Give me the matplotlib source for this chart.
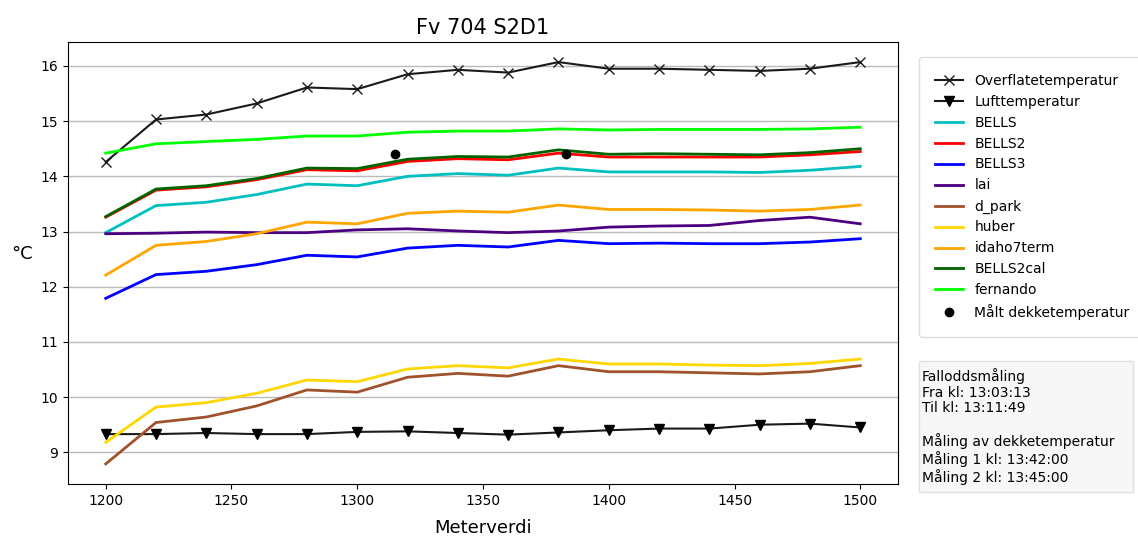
import numpy as np
import matplotlib
matplotlib.use('Agg')
import matplotlib.pyplot as plt
from matplotlib.patches import Rectangle

# Meterverdi langs strekningen
meter = [1200, 1220, 1240, 1260, 1280, 1300, 1320, 1340,
         1360, 1380, 1400, 1420, 1440, 1460, 1480, 1500]

overflate = [14.26, 15.03, 15.12, 15.32, 15.61, 15.58, 15.85, 15.93,
             15.88, 16.07, 15.95, 15.95, 15.93, 15.91, 15.95, 16.07]
luft = [9.33, 9.33, 9.35, 9.33, 9.33, 9.37, 9.38, 9.35,
        9.32, 9.36, 9.40, 9.43, 9.43, 9.50, 9.52, 9.45]

bells = [12.98, 13.47, 13.53, 13.67, 13.86, 13.83, 14.00, 14.05,
         14.02, 14.15, 14.08, 14.08, 14.08, 14.07, 14.11, 14.18]
bells2 = [13.26, 13.75, 13.81, 13.94, 14.12, 14.10, 14.27, 14.32,
          14.30, 14.42, 14.35, 14.35, 14.35, 14.35, 14.39, 14.45]
bells3 = [11.79, 12.22, 12.28, 12.40, 12.57, 12.54, 12.70, 12.75,
          12.72, 12.84, 12.78, 12.79, 12.78, 12.78, 12.81, 12.87]
lai = [12.96, 12.97, 12.99, 12.98, 12.98, 13.03, 13.05, 13.01,
       12.98, 13.01, 13.08, 13.10, 13.11, 13.20, 13.26, 13.14]
d_park = [8.79, 9.54, 9.64, 9.84, 10.13, 10.09, 10.36, 10.43,
          10.38, 10.57, 10.46, 10.46, 10.44, 10.42, 10.46, 10.57]
huber = [9.18, 9.82, 9.90, 10.07, 10.31, 10.28, 10.51, 10.57,
         10.53, 10.69, 10.60, 10.60, 10.58, 10.57, 10.61, 10.69]
idaho7term = [12.21, 12.75, 12.82, 12.96, 13.17, 13.14, 13.33, 13.37,
              13.35, 13.48, 13.40, 13.40, 13.39, 13.37, 13.40, 13.48]
bells2cal = [13.27, 13.77, 13.83, 13.96, 14.15, 14.14, 14.31, 14.36,
             14.35, 14.48, 14.40, 14.41, 14.40, 14.39, 14.43, 14.50]
fernando = [14.42, 14.59, 14.63, 14.67, 14.73, 14.73, 14.80, 14.82,
            14.82, 14.86, 14.84, 14.85, 14.85, 14.85, 14.86, 14.89]

# Målt dekketemperatur
maalt_meter = [1315, 1383]
maalt_temp = [14.41, 14.40]

modeller = [
    ('BELLS', bells, 'c'),
    ('BELLS2', bells2, 'red'),
    ('BELLS3', bells3, 'blue'),
    ('lai', lai, 'indigo'),
    ('d_park', d_park, 'sienna'),
    ('huber', huber, 'gold'),
    ('idaho7term', idaho7term, 'orange'),
    ('BELLS2cal', bells2cal, 'darkgreen'),
    ('fernando', fernando, 'lime'),
]

info_tekst = ("Falloddsmåling\n"
              "Fra kl: 13:03:13\n"
              "Til kl: 13:11:49\n"
              "\n"
              "Måling av dekketemperatur\n"
              "Måling 1 kl: 13:42:00\n"
              "Måling 2 kl: 13:45:00")

W, H = 1138, 536
fig = plt.figure(figsize=(W / 100, H / 100), dpi=100)
ax = fig.add_axes([68 / W, 1 - 484 / H, 830 / W, 442 / H])

ax.plot(meter, overflate, color='#1a1a1a', marker='x', markersize=7, lw=1.5,
        label='Overflatetemperatur')
ax.plot(meter, luft, color='#1a1a1a', marker='v', markersize=7,
        markerfacecolor='k', markeredgecolor='k', lw=1.5,
        label='Lufttemperatur')
for navn, verdier, farge in modeller:
    ax.plot(meter, verdier, color=farge, lw=2, label=navn)
ax.plot(maalt_meter, maalt_temp, 'ko', markersize=6, lw=0,
        label='Målt dekketemperatur')

ax.set_title('Fv 704 S2D1', fontsize=15)
ax.set_xlabel('Meterverdi', fontsize=13, labelpad=8)
ax.set_ylabel('°C', fontsize=13, rotation=0)
ax.yaxis.set_label_coords(-0.055, 0.50)
ax.tick_params(labelsize=10)
ax.grid(axis='y', color='#bbbbbb', lw=1)

ax.legend(loc='upper left', bbox_to_anchor=(1.025, 0.966), fontsize=10,
          borderpad=1.2, borderaxespad=0, framealpha=1, edgecolor='#dddddd')

# infoboks under legenden
fig.patches.append(Rectangle((919 / W, 1 - 492 / H), 214 / W, 131 / H,
                             transform=fig.transFigure, facecolor='#f7f7f7',
                             edgecolor='#e0e0e0', lw=1))
fig.text(922 / W, 1 - 368 / H, info_tekst, fontsize=10, va='top', ha='left',
         linespacing=1.15)

fig.savefig('out.png', dpi=100)
